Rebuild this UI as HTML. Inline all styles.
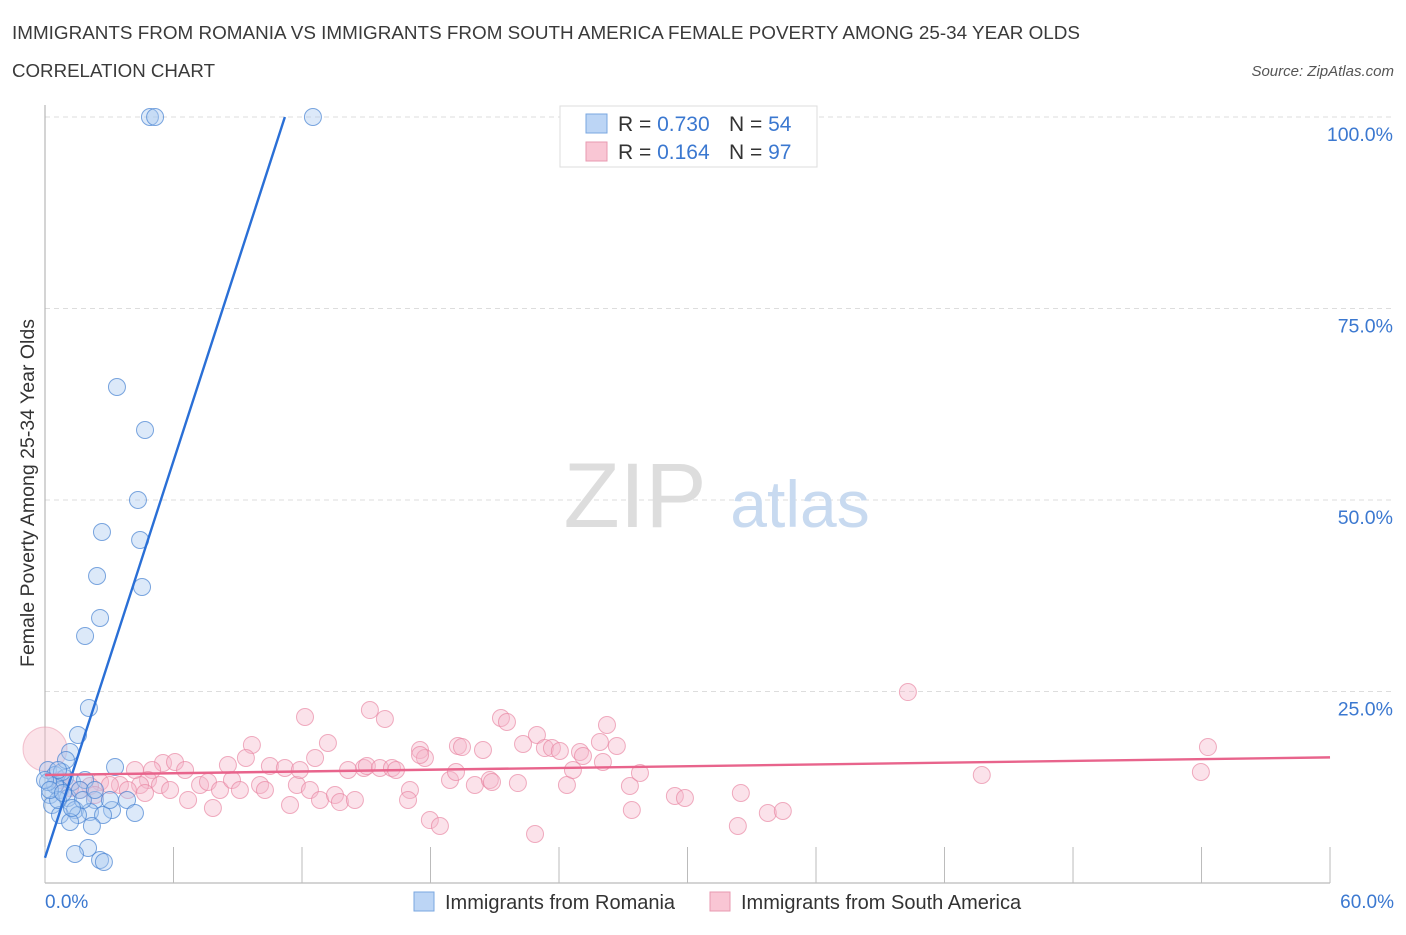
<!DOCTYPE html>
<html><head><meta charset="utf-8"><style>
body{margin:0;background:#fff;font-family:"Liberation Sans",sans-serif;}
svg text{font-family:"Liberation Sans",sans-serif;}
</style></head><body>
<svg width="1406" height="930">
<text x="12" y="39" font-size="18" fill="#3a3a3a" textLength="1068" lengthAdjust="spacingAndGlyphs">IMMIGRANTS FROM ROMANIA VS IMMIGRANTS FROM SOUTH AMERICA FEMALE POVERTY AMONG 25-34 YEAR OLDS</text>
<text x="12" y="77" font-size="18" fill="#3a3a3a" textLength="203" lengthAdjust="spacingAndGlyphs">CORRELATION CHART</text>
<text x="1394" y="76" font-size="15" fill="#555" font-style="italic" text-anchor="end">Source: ZipAtlas.com</text>
<g id="grid"></g>
<text x="635" y="527" font-size="92" fill="#ddd" font-family="Liberation Serif" text-anchor="middle">ZIP</text>
<text x="800" y="527" font-size="66" fill="#c8daf0" text-anchor="middle">atlas</text>
<g id="pts"></g>
<g id="lines"></g>
<text transform="translate(34,493) rotate(-90)" font-size="19.5" fill="#333" text-anchor="middle">Female Poverty Among 25-34 Year Olds</text>
<text x="45" y="908" font-size="19" fill="#3b78d0">0.0%</text>
<text x="1394" y="908" font-size="19" fill="#3b78d0" text-anchor="end">60.0%</text>
<g>
<rect x="560" y="106" width="257" height="61" fill="#fff" stroke="#ddd"/>
<rect x="586" y="114" width="21" height="19" fill="#bcd5f5" stroke="#7aa7e0"/>
<rect x="586" y="142" width="21" height="19" fill="#f9c6d4" stroke="#e89ab0"/>
<text x="618" y="131" font-size="21" fill="#333">R = <tspan fill="#3b78d0">0.730</tspan></text>
<text x="729" y="131" font-size="21" fill="#333">N = <tspan fill="#3b78d0">54</tspan></text>
<text x="618" y="159" font-size="21" fill="#333">R =  <tspan fill="#3b78d0">0.164</tspan></text>
<text x="729" y="159" font-size="21" fill="#333">N = <tspan fill="#3b78d0">97</tspan></text>
</g>
<g>
<rect x="414" y="892" width="20" height="19" fill="#bcd5f5" stroke="#7aa7e0"/>
<text x="445" y="909" font-size="20" fill="#333">Immigrants from Romania</text>
<rect x="710" y="892" width="20" height="19" fill="#f9c6d4" stroke="#e89ab0"/>
<text x="741" y="909" font-size="20" fill="#333">Immigrants from South America</text>
</g>
</svg>
<script>
const yTicks=[25,50,75,100];
const yTickLabels=["25.0%","50.0%","75.0%","100.0%"];
const xTicks=[0,6,12,18,24,30,36,42,48,54,60];
const bluePx=[[150,117],[155,117],[313,117],[117,387],[145,430],[138,500],[102,532],[140,540],[97,576],[142,587],[100,618],[85,636],[89,708],[78,735],[70,752],[115,767],[48,770],[55,775],[65,778],[72,782],[85,780],[60,790],[50,795],[68,798],[95,800],[127,800],[52,805],[75,810],[112,810],[90,812],[135,813],[60,815],[78,815],[103,815],[70,822],[92,826],[88,848],[75,854],[100,860],[104,862],[55,785],[62,772],[80,790],[48,782],[58,800],[66,760],[45,780],[110,800],[83,800],[50,790],[63,793],[72,808],[95,790],[58,770]];
const pinkPx=[[908,692],[1208,747],[1201,772],[982,775],[305,717],[370,710],[385,719],[501,718],[507,722],[607,725],[537,735],[458,746],[462,747],[483,750],[523,744],[545,748],[552,748],[560,751],[580,752],[583,756],[617,746],[603,762],[420,750],[425,758],[328,743],[315,758],[252,745],[246,758],[270,766],[285,768],[163,763],[175,762],[152,770],[148,780],[140,785],[120,785],[100,782],[90,786],[80,790],[70,788],[128,790],[110,785],[145,793],[160,785],[170,790],[188,800],[200,785],[208,782],[213,808],[220,790],[232,780],[240,790],[260,785],[265,790],[290,805],[297,785],[310,790],[320,800],[335,795],[340,802],[355,800],[364,768],[367,766],[380,768],[392,768],[396,770],[410,790],[408,800],[430,820],[440,826],[450,780],[475,785],[490,780],[492,782],[518,783],[535,834],[567,785],[573,770],[630,786],[632,810],[640,773],[675,796],[685,798],[738,826],[741,793],[768,813],[783,811],[600,742],[420,755],[228,765],[185,770],[300,770],[348,770],[456,772],[135,770],[95,795],[60,780]];
const blueX=bluePx.map(p=>+((p[0]-45)/21.42).toFixed(2));
const blueY=bluePx.map(p=>+((883-p[1])/7.66).toFixed(2));
const pinkX=pinkPx.map(p=>+((p[0]-45)/21.42).toFixed(2));
const pinkY=pinkPx.map(p=>+((883-p[1])/7.66).toFixed(2));
const blueTrend=[[0,3.3],[11.2,100]];
const pinkTrend=[[0,14.1],[60,16.4]];
const X=v=>45+v*21.417, Y=v=>883-v*7.66;
const NS="http://www.w3.org/2000/svg";
function mk(t,a,p){const e=document.createElementNS(NS,t);for(const k in a)e.setAttribute(k,a[k]);p.appendChild(e);return e;}
const g=document.getElementById('grid');
yTicks.forEach((t,i)=>{
 const l=mk('line',{x1:45,x2:1394,y1:Y(t),y2:Y(t),stroke:'#ddd','stroke-dasharray':'5,4'},g);
 
 
 const tx=mk('text',{x:1393,y:Y(t)+24,'font-size':19.5,fill:'#3b78d0','text-anchor':'end'},g);
 tx.textContent=yTickLabels[i];
 
 
});
const ax=mk('line',{x1:45,x2:45,y1:105,y2:883,stroke:'#aaa'},g);


const bx=mk('line',{x1:45,x2:1330,y1:883,y2:883,stroke:'#aaa'},g);


xTicks.forEach(t=>{const l=mk('line',{x1:X(t),x2:X(t),y1:847,y2:883,stroke:'#bbb'},g);
 
 });
const P=document.getElementById('pts');
const big=mk('circle',{cx:X(0),cy:Y(17.5),r:22,fill:'rgba(244,184,200,0.4)',stroke:'rgba(232,144,168,0.5)'},P);


pinkX.forEach((x,i)=>{const c=mk('circle',{cx:X(x),cy:Y(pinkY[i]),r:8.5,fill:'rgba(246,182,202,0.4)',stroke:'rgba(232,130,160,0.65)'},P);
 
 });
blueX.forEach((x,i)=>{const c=mk('circle',{cx:X(x),cy:Y(blueY[i]),r:8.5,fill:'rgba(168,200,240,0.4)',stroke:'rgba(70,130,210,0.7)'},P);
 
 });
const L=document.getElementById('lines');
const bl=mk('line',{x1:X(blueTrend[0][0]),y1:Y(blueTrend[0][1]),x2:X(blueTrend[1][0]),y2:Y(blueTrend[1][1]),stroke:'#2a6fd6','stroke-width':2.4},L);


const pl=mk('line',{x1:X(pinkTrend[0][0]),y1:Y(pinkTrend[0][1]),x2:X(pinkTrend[1][0]),y2:Y(pinkTrend[1][1]),stroke:'#e8648c','stroke-width':2.4},L);


</script>
</body></html>
